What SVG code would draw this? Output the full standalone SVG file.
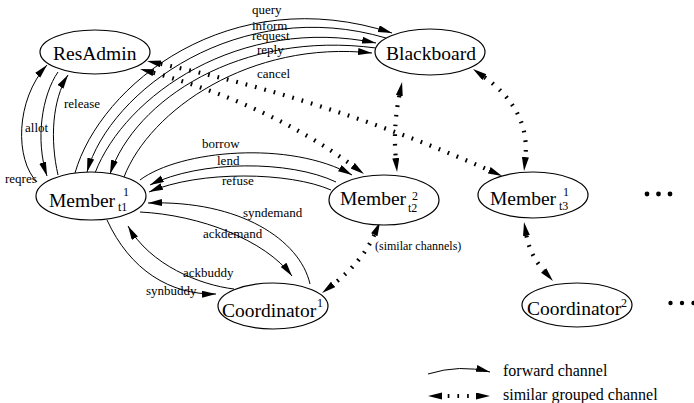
<svg xmlns="http://www.w3.org/2000/svg" width="694" height="403" viewBox="0 0 694 403">
<defs>
<marker id="a" markerUnits="userSpaceOnUse" markerWidth="15" markerHeight="8" refX="14" refY="3.5" orient="auto"><path d="M0,0 L14,3.5 L0,7 z" fill="#000"/></marker>
<marker id="d" markerUnits="userSpaceOnUse" markerWidth="15" markerHeight="8" refX="0" refY="3.5" orient="auto-start-reverse"><path d="M0,0 L14,3.5 L0,7 z" fill="#000"/></marker>
</defs>
<style>
.n{fill:#fff;stroke:#000;stroke-width:1.2}
.t{font-family:"Liberation Serif","Times New Roman",serif;font-size:19.5px;fill:#000}
.s{font-family:"Liberation Serif","Times New Roman",serif;font-size:12px;fill:#000}
.l{font-family:"Liberation Serif","Times New Roman",serif;font-size:13px;fill:#000}
.g{font-family:"Liberation Serif","Times New Roman",serif;font-size:16px;fill:#000}
.e{fill:none;stroke:#000;stroke-width:1;marker-end:url(#a)}
.p{fill:none;stroke:#000;stroke-width:4.2;stroke-dasharray:1.7 8;marker-start:url(#d);marker-end:url(#d)}
</style>
<rect width="694" height="403" fill="#fff"/>
<g id="connectors">
<path class="e" d="M37,182 C15,160 15,100 47,65"/>
<path class="e" d="M58,72 C42,95 35,140 47,176"/>
<path class="e" d="M58,175 C50,140 52,100 68,75"/>
<path class="e" d="M75,173 C100,85 230,-20 392,33"/>
<path class="e" d="M386,38 C240,-5 110,90 87,172"/>
<path class="e" d="M95,173 C125,95 240,15 376,43"/>
<path class="e" d="M376,48 C240,30 135,100 110,174"/>
<path class="e" d="M124,177 C150,110 250,40 372,53"/>
<path class="e" d="M140,180 C180,150 290,140 352,175"/>
<path class="e" d="M336,182 C290,160 200,160 150,185"/>
<path class="e" d="M331,190 C290,172 200,170 149,192"/>
<path class="e" d="M310,284 C300,240 240,200 148,203"/>
<path class="e" d="M140,212 C200,215 265,240 292,276"/>
<path class="e" d="M234,289 C200,285 150,265 128,226"/>
<path class="e" d="M107,220 C130,270 170,295 216,294"/>
<path class="p" d="M160.7,63.9 Q330,100 489.2,170.3"/>
<path class="p" d="M153.5,72.7 Q270,105 352.7,165.7"/>
<path class="p" d="M399.3,95.7 Q393,127 395.8,158.1"/>
<path class="p" d="M484.4,77.2 Q530,110 525.4,157.1"/>
<path class="p" d="M374.3,234.8 Q362,262 333.1,284.4"/>
<path class="p" d="M526.5,235.8 Q530,255 543.7,270.5"/>
<text class="l" x="252" y="14">query</text>
<text class="l" x="252" y="30">inform</text>
<text class="l" x="252" y="40">request</text>
<text class="l" x="257" y="54">reply</text>
<text class="l" x="257" y="78">cancel</text>
<text class="l" x="64" y="108">release</text>
<text class="l" x="25" y="132">allot</text>
<text class="l" x="5" y="183">reqres</text>
<text class="l" x="202" y="148">borrow</text>
<text class="l" x="217" y="165">lend</text>
<text class="l" x="222" y="185">refuse</text>
<text class="l" x="243" y="217">syndemand</text>
<text class="l" x="203" y="238">ackdemand</text>
<text class="l" x="183" y="277">ackbuddy</text>
<text class="l" x="146" y="295">synbuddy</text>
<text class="s" x="375" y="250">(similar channels)</text>
</g>
<g id="resadmin"><ellipse class="n" cx="95" cy="52" rx="55" ry="22"/><text class="t" x="53" y="60">ResAdmin</text></g>
<g id="blackboard"><ellipse class="n" cx="430" cy="52" rx="55" ry="23"/><text class="t" x="386" y="60">Blackboard</text></g>
<g id="member-t1"><ellipse class="n" cx="91" cy="196" rx="55" ry="24"/><text class="t" x="49" y="207">Member</text><text class="s" x="123" y="196">1</text><text class="s" x="118" y="211">t1</text></g>
<g id="member-t2"><ellipse class="n" cx="384" cy="200" rx="55" ry="25"/><text class="t" x="340" y="205">Member</text><text class="s" x="412" y="200">2</text><text class="s" x="408" y="212">t2</text></g>
<g id="member-t3"><ellipse class="n" cx="533" cy="195" rx="55" ry="23"/><text class="t" x="490" y="205">Member</text><text class="s" x="563" y="196">1</text><text class="s" x="559" y="210">t3</text></g>
<g id="coordinator1"><ellipse class="n" cx="273" cy="306" rx="55" ry="23"/><text class="t" x="222" y="317">Coordinator</text><text class="s" x="317" y="307">1</text></g>
<g id="coordinator2"><ellipse class="n" cx="577" cy="305" rx="55" ry="22"/><text class="t" x="527" y="315">Coordinator</text><text class="s" x="621" y="307">2</text></g>
<g id="ellipsis1"><circle cx="647" cy="194" r="2.4"/><circle cx="658.5" cy="194" r="2.4"/><circle cx="670" cy="194" r="2.4"/></g>
<g id="ellipsis2"><circle cx="670.5" cy="303" r="2.2"/><circle cx="682" cy="303" r="2.2"/><circle cx="693.5" cy="303" r="2.2"/></g>
<g id="legend">
<path class="e" d="M428,374 Q460,364 490,372"/>
<path class="p" style="stroke-dashoffset:4" d="M442,396 L476,396"/>
<text class="g" x="503" y="376">forward channel</text>
<text class="g" x="503" y="400">similar grouped channel</text>
</g>
</svg>
